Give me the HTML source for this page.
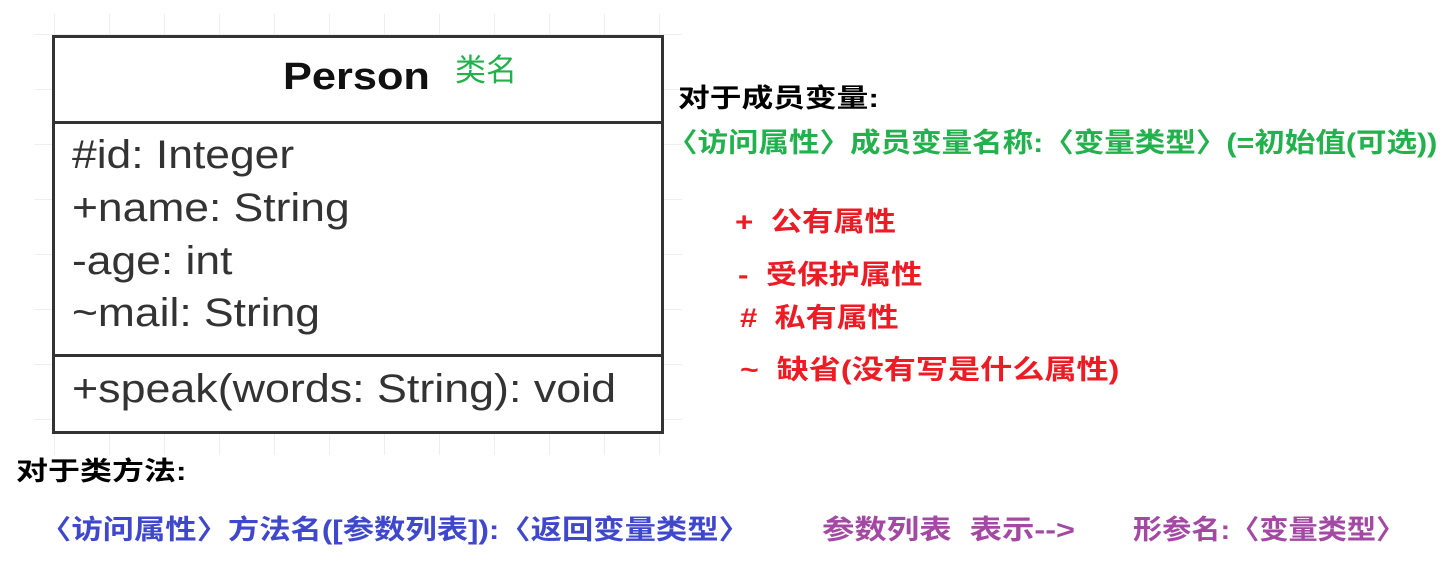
<!DOCTYPE html>
<html><head><meta charset="utf-8"><style>
body{margin:0;width:1442px;height:572px;background:#fff;position:relative;overflow:hidden;font-family:"Liberation Sans","Noto Sans CJK SC",sans-serif;}
.a{position:absolute;white-space:nowrap;line-height:1;transform-origin:0 0;}
.grid{position:absolute;left:34px;top:14px;width:648px;height:441px;
background-image:linear-gradient(to right,#eee 1px,transparent 1px),linear-gradient(to bottom,#eee 1px,transparent 1px);
background-size:55px 55px;background-position:20px 0,0 20px;}
.box{position:absolute;left:52px;top:35px;width:606px;height:393px;border:3px solid #333;background:#fff;}
.attr{font-size:40px;color:#333;left:72px;transform:scaleX(1.11);}
.g{color:#22b14c}.r{color:#ed1c24}.b{color:#3f48cc}.p{color:#a349a4}
.cn{font-weight:bold}
</style></head><body>
<div class="grid"></div>
<div class="box">
 <div style="position:absolute;left:0;right:0;top:83px;border-top:3px solid #333"></div>
 <div style="position:absolute;left:0;right:0;top:316px;border-top:3px solid #333"></div>
</div>
<div class="a" style="left:283px;top:58px;font-size:38px;font-weight:bold;color:#111;transform:scaleX(1.14)">Person</div>
<div class="a g" style="left:455px;top:55px;font-size:31px">类名</div>
<div class="a attr" style="top:135px">#id: Integer</div>
<div class="a attr" style="top:188px">+name: String</div>
<div class="a attr" style="top:241px">-age: int</div>
<div class="a attr" style="top:293px">~mail: String</div>
<div class="a attr" style="top:369px;transform:scaleX(1.12)">+speak(words: String): void</div>

<div class="a cn" style="left:678px;top:85px;font-size:26px;color:#000;transform:scaleX(1.22)">对于成员变量:</div>
<div class="a g cn" style="left:667px;top:130px;font-size:27px;transform:scaleX(1.13)">〈访问属性〉成员变量名称:〈变量类型〉(=初始值(可选))</div>
<div class="a r cn" style="left:735px;top:209px;font-size:27px;transform:scaleX(1.16)">+&nbsp;&nbsp;公有属性</div>
<div class="a r cn" style="left:738px;top:262px;font-size:27px;transform:scaleX(1.16)">-&nbsp;&nbsp;受保护属性</div>
<div class="a r cn" style="left:740px;top:305px;font-size:27px;transform:scaleX(1.15)">#&nbsp;&nbsp;私有属性</div>
<div class="a r cn" style="left:740px;top:357px;font-size:27px;transform:scaleX(1.19)">~&nbsp;&nbsp;缺省(没有写是什么属性)</div>

<div class="a cn" style="left:16px;top:458px;font-size:26px;color:#000;transform:scaleX(1.23)">对于类方法:</div>
<div class="a b cn" style="left:40px;top:517px;font-size:27px;transform:scaleX(1.16)">〈访问属性〉方法名([参数列表]):〈返回变量类型〉</div>
<div class="a p cn" style="left:822px;top:517px;font-size:27px;transform:scaleX(1.2)">参数列表&nbsp;&nbsp;表示--&gt;</div>
<div class="a p cn" style="left:1133px;top:517px;font-size:27px;transform:scaleX(1.08)">形参名:〈变量类型〉</div>
</body></html>
